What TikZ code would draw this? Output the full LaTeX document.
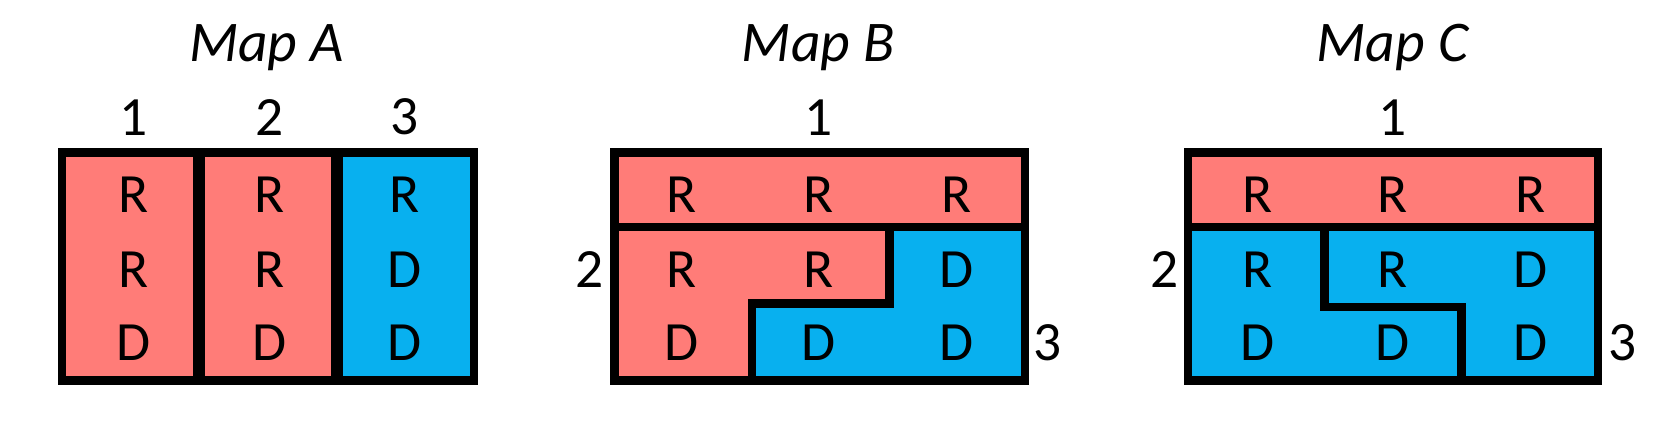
\documentclass[tikz,border=0pt]{standalone}
\usepackage{fontspec}
\setmainfont{Carlito}
\definecolor{rep}{HTML}{FF7C78}
\definecolor{dem}{HTML}{08B0EF}
\begin{document}
\begin{tikzpicture}[x=1pt,y=-1pt,
  lab/.style={font=\fontsize{52}{52}\selectfont, inner sep=0pt},
  ttl/.style={font=\fontsize{54}{54}\selectfont\itshape, inner sep=0pt},
  bd/.style={line width=8pt, line cap=rect}]
\useasboundingbox (0,0) rectangle (1560,417);
% Map A
\fill[rep] (58,143) rectangle (316,357);
\fill[dem] (316,143) rectangle (445,357);
\draw[bd] (58,143) rectangle (445,357);
\draw[line width=11pt, line cap=butt] (187,143) -- (187,357);
\draw[line width=11pt, line cap=butt] (316,143) -- (316,357);
\node[ttl] (ta) at (250,45) {Map A};
\node[lab] (a1) at (125,110) {1};
\node[lab] (a2) at (253,110) {2};
\node[lab] (a3) at (380,110) {3};
\foreach \c/\x in {1/125,2/253}{
  \node[lab] (ar1\c) at (\x,183) {R};
  \node[lab] (ar2\c) at (\x,253) {R};
  \node[lab] (ar3\c) at (\x,322) {D};}
\node[lab] (ar13) at (380,183) {R};
\node[lab] (ar23) at (380,253) {D};
\node[lab] (ar33) at (380,322) {D};
% Map B
\fill[rep] (577,143) rectangle (962,357);
\fill[dem] (835,213) -- (962,213) -- (962,357) -- (706,357) -- (706,285) -- (835,285) -- cycle;
\draw[bd] (577,143) rectangle (962,357);
\draw[bd] (577,213) -- (962,213);
\draw[bd] (835,213) -- (835,285) -- (706,285) -- (706,357);
\node[ttl] (tb) at (768,45) {Map B};
\node[lab] (b1) at (768,110) {1};
\node[lab] (b2) at (553,253) {2};
\node[lab] (b3) at (983,322) {3};
\node[lab] (b11) at (640,183) {R};
\node[lab] (b12) at (768,183) {R};
\node[lab] (b13) at (898,183) {R};
\node[lab] (b21) at (640,253) {R};
\node[lab] (b22) at (768,253) {R};
\node[lab] (b23) at (898,253) {D};
\node[lab] (b31) at (640,322) {D};
\node[lab] (b32) at (768,322) {D};
\node[lab] (b33) at (898,322) {D};
% Map C
\fill[dem] (1115,143) rectangle (1500,357);
\fill[rep] (1115,143) rectangle (1500,213);
\draw[bd] (1115,143) rectangle (1500,357);
\draw[bd] (1115,213) -- (1500,213);
\draw[bd] (1243,213) -- (1243,288) -- (1372,288) -- (1372,357);
\node[ttl] (tc) at (1307,45) {Map C};
\node[lab] (c1) at (1307,110) {1};
\node[lab] (c2) at (1093,253) {2};
\node[lab] (c3) at (1523,322) {3};
\node[lab] (c11) at (1180,183) {R};
\node[lab] (c12) at (1307,183) {R};
\node[lab] (c13) at (1437,183) {R};
\node[lab] (c21) at (1180,253) {R};
\node[lab] (c22) at (1307,253) {R};
\node[lab] (c23) at (1437,253) {D};
\node[lab] (c31) at (1180,322) {D};
\node[lab] (c32) at (1307,322) {D};
\node[lab] (c33) at (1437,322) {D};
\end{tikzpicture}
\end{document}
